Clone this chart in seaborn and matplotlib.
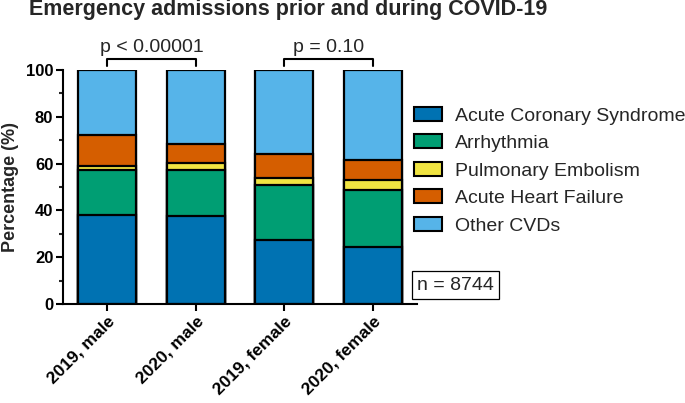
import numpy as np
import pandas as pd
import matplotlib
matplotlib.use("Agg")
import matplotlib.pyplot as plt
import seaborn as sns
from matplotlib.patches import Patch

groups = ["2019, male", "2020, male", "2019, female", "2020, female"]
categories = ["Acute Coronary Syndrome", "Arrhythmia", "Pulmonary Embolism",
              "Acute Heart Failure", "Other CVDs"]
acs = [38.2, 37.5, 27.2, 24.5]
arrhythmia = [18.9, 19.8, 23.7, 24.2]
pulm_emb = [1.8, 2.9, 3.0, 4.2]
heart_failure = [13.3, 8.1, 10.4, 8.8]
other = [27.8, 31.7, 35.7, 38.3]
colors = ["#0072B2", "#009E73", "#F0E442", "#D55E00", "#56B4E9"]
p_labels = ["p < 0.00001", "p = 0.10"]
n_text = "n = 8744"

sns.set_theme(style="ticks")
plt.rcParams["font.family"] = ["Liberation Sans", "DejaVu Sans"]

# cumulative sums -> overlay the layers to get stacked bars
df = pd.DataFrame({"group": groups, categories[0]: acs, categories[1]: arrhythmia,
                   categories[2]: pulm_emb, categories[3]: heart_failure,
                   categories[4]: other})
cum = df[categories].cumsum(axis=1)
cum["group"] = groups

fig = plt.figure(figsize=(6.85, 4.03), dpi=100)
ax = fig.add_axes([63 / 685, 1 - 304 / 403, 354 / 685, 234 / 403])

# top layer first, lower layers painted over it
for cat, col in reversed(list(zip(categories, colors))):
    sns.barplot(data=cum, x="group", y=cat, color=col, ax=ax, width=0.655,
                edgecolor="black", linewidth=1.6, saturation=1, zorder=2)

ax.set_xlim(-0.5, 3.5)
ax.set_ylim(0, 100)
ax.set_yticks([0, 20, 40, 60, 80, 100])
ax.set_yticks([10, 30, 50, 70, 90], minor=True)
ax.set_xlabel("")
ax.set_ylabel("Percentage (%)", fontsize=13, fontweight="bold", labelpad=5)
ax.tick_params(axis="both", which="major", length=5, width=1.5, labelsize=12,
               colors="black", pad=2)
ax.tick_params(axis="y", which="minor", length=3, width=1.5)
for lab in ax.get_yticklabels():
    lab.set_fontweight("bold")
ax.set_xticks(range(4))
ax.set_xticklabels(groups, rotation=45, ha="right", rotation_mode="anchor",
                   fontweight="bold", fontsize=12.5)
sns.despine(ax=ax)
for s in ["left", "bottom"]:
    ax.spines[s].set_linewidth(1.5)
    ax.spines[s].set_color("black")

# significance brackets
for (x0, x1), txt in zip([(0, 1), (2, 3)], p_labels):
    ax.plot([x0, x0, x1, x1], [101.6, 104.6, 104.6, 101.6], color="black",
            lw=1.5, clip_on=False)
    ax.text((x0 + x1) / 2, 107.7, txt, ha="center", va="baseline", fontsize=14)

fig.text(29 / 685, 1 - 10 / 403, "Emergency admissions prior and during COVID-19",
         fontsize=15.5, fontweight="bold", ha="left", va="center")

handles = [Patch(facecolor=c, edgecolor="black", linewidth=1.5) for c in colors]
fig.legend(handles, categories, loc="upper left",
           bbox_to_anchor=(414 / 685, 1 - 107 / 403), frameon=False, fontsize=14,
           handlelength=1.44, handleheight=0.72, labelspacing=0.5,
           handletextpad=0.67, borderpad=0, borderaxespad=0)

fig.text(417 / 685, 1 - 285 / 403, n_text, fontsize=14, ha="left", va="center",
         bbox=dict(boxstyle="square,pad=0.27", facecolor="white",
                   edgecolor="black", linewidth=0.9))

fig.savefig("out.png", dpi=100)
